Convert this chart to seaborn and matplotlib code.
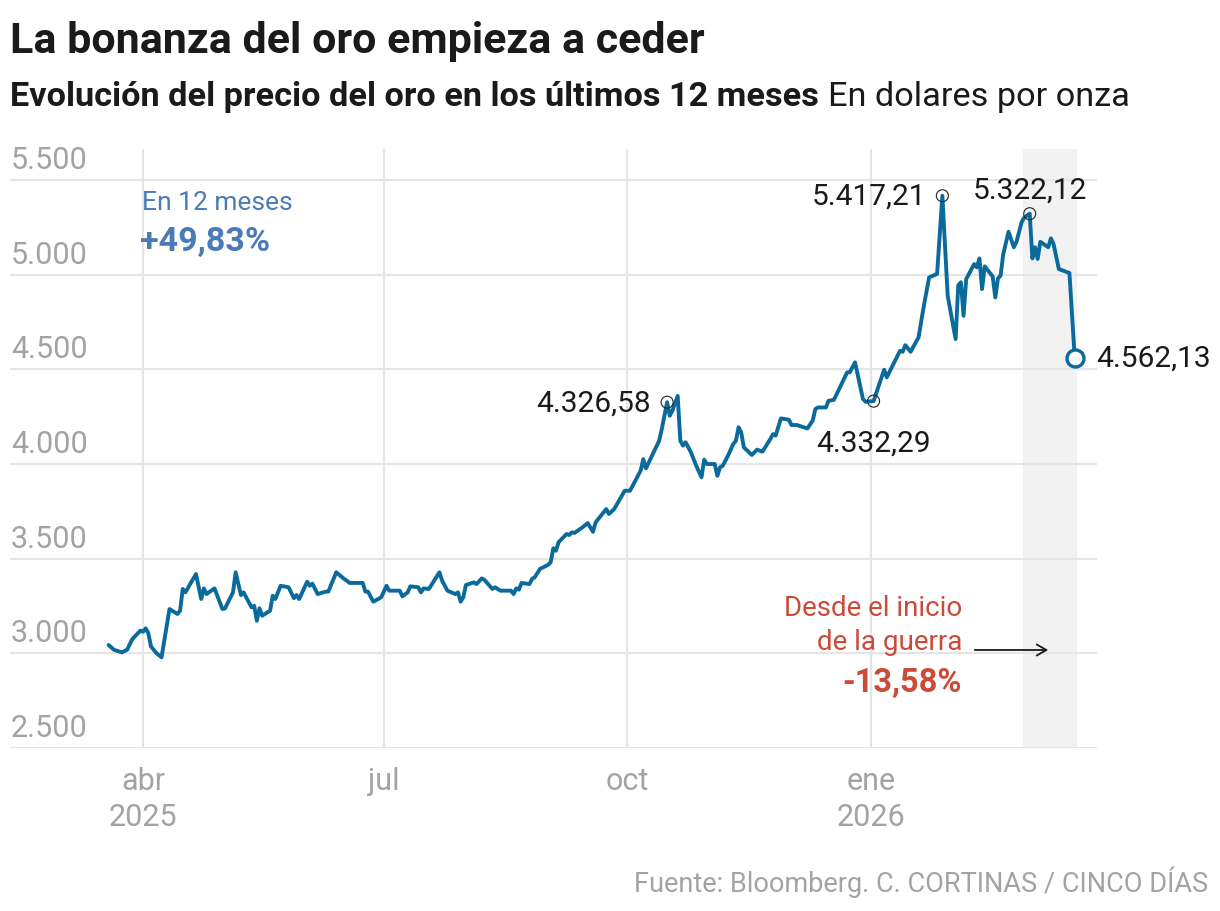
import pandas as pd
import numpy as np
import matplotlib
matplotlib.use("Agg")
import matplotlib.pyplot as plt
import matplotlib.transforms as mtransforms
import seaborn as sns

# precio del oro (dolares por onza)
fechas = [
    '2025-03-19', '2025-03-21', '2025-03-24', '2025-03-26', '2025-03-28', '2025-03-31',
    '2025-04-01', '2025-04-02', '2025-04-03', '2025-04-04', '2025-04-06', '2025-04-08',
    '2025-04-11', '2025-04-14', '2025-04-15', '2025-04-16', '2025-04-17', '2025-04-21',
    '2025-04-23', '2025-04-24', '2025-04-25', '2025-04-28', '2025-05-01', '2025-05-02',
    '2025-05-05', '2025-05-06', '2025-05-08', '2025-05-09', '2025-05-12', '2025-05-13',
    '2025-05-14', '2025-05-15', '2025-05-16', '2025-05-19', '2025-05-20', '2025-05-21',
    '2025-05-23', '2025-05-26', '2025-05-28', '2025-05-29', '2025-05-30', '2025-06-02',
    '2025-06-03', '2025-06-04', '2025-06-06', '2025-06-09', '2025-06-10', '2025-06-13',
    '2025-06-16', '2025-06-17', '2025-06-18', '2025-06-23', '2025-06-24', '2025-06-25',
    '2025-06-27', '2025-06-30', '2025-07-02', '2025-07-03', '2025-07-07', '2025-07-08',
    '2025-07-10', '2025-07-11', '2025-07-14', '2025-07-15', '2025-07-16', '2025-07-18',
    '2025-07-22', '2025-07-23', '2025-07-25', '2025-07-28', '2025-07-29', '2025-07-30',
    '2025-07-31', '2025-08-01', '2025-08-04', '2025-08-05', '2025-08-07', '2025-08-08',
    '2025-08-11', '2025-08-12', '2025-08-14', '2025-08-18', '2025-08-19', '2025-08-20',
    '2025-08-21', '2025-08-22', '2025-08-25', '2025-08-26', '2025-08-27', '2025-08-29',
    '2025-09-01', '2025-09-02', '2025-09-03', '2025-09-04', '2025-09-05', '2025-09-08',
    '2025-09-09', '2025-09-10', '2025-09-11', '2025-09-14', '2025-09-16', '2025-09-18',
    '2025-09-19', '2025-09-23', '2025-09-24', '2025-09-26', '2025-09-30', '2025-10-02',
    '2025-10-06', '2025-10-07', '2025-10-08', '2025-10-13', '2025-10-14', '2025-10-16',
    '2025-10-17', '2025-10-18', '2025-10-20', '2025-10-21', '2025-10-22', '2025-10-23',
    '2025-10-25', '2025-10-27', '2025-10-29', '2025-10-30', '2025-10-31', '2025-11-03',
    '2025-11-04', '2025-11-05', '2025-11-06', '2025-11-08', '2025-11-10', '2025-11-11',
    '2025-11-12', '2025-11-13', '2025-11-14', '2025-11-17', '2025-11-19', '2025-11-21',
    '2025-11-24', '2025-11-25', '2025-11-26', '2025-11-28', '2025-12-01', '2025-12-02',
    '2025-12-04', '2025-12-08', '2025-12-10', '2025-12-11', '2025-12-12', '2025-12-15',
    '2025-12-16', '2025-12-18', '2025-12-20', '2025-12-23', '2025-12-24', '2025-12-26',
    '2025-12-29', '2025-12-30', '2026-01-02', '2026-01-06', '2026-01-07', '2026-01-12',
    '2026-01-13', '2026-01-14', '2026-01-16', '2026-01-19', '2026-01-21', '2026-01-23',
    '2026-01-26', '2026-01-28', '2026-01-30', '2026-02-02', '2026-02-03', '2026-02-04',
    '2026-02-05', '2026-02-06', '2026-02-09', '2026-02-10', '2026-02-11', '2026-02-12',
    '2026-02-13', '2026-02-16', '2026-02-17', '2026-02-18', '2026-02-19', '2026-02-20',
    '2026-02-22', '2026-02-24', '2026-02-25', '2026-02-27', '2026-02-28', '2026-03-02',
    '2026-03-03', '2026-03-04', '2026-03-05', '2026-03-06', '2026-03-09', '2026-03-10',
    '2026-03-11', '2026-03-13', '2026-03-17', '2026-03-19',
]
precio = [
    3044, 3019, 3005, 3019, 3076, 3120,
    3114, 3132, 3107, 3037, 3002, 2979,
    3234, 3208, 3225, 3340, 3322, 3419,
    3287, 3343, 3313, 3343, 3234, 3238,
    3322, 3428, 3308, 3322, 3243, 3251,
    3172, 3238, 3199, 3225, 3304, 3287,
    3357, 3349, 3291, 3308, 3287, 3378,
    3357, 3368, 3313, 3326, 3326, 3428,
    3393, 3384, 3372, 3372, 3326, 3326,
    3273, 3296, 3357, 3331, 3331, 3301,
    3322, 3354, 3349, 3322, 3343, 3340,
    3428, 3384, 3331, 3313, 3322, 3273,
    3296, 3361, 3375, 3366, 3396, 3388,
    3340, 3349, 3331, 3331, 3313, 3343,
    3336, 3372, 3366, 3393, 3402, 3446,
    3467, 3481, 3555, 3542, 3587, 3630,
    3625, 3639, 3636, 3665, 3688, 3642,
    3692, 3762, 3736, 3762, 3859, 3859,
    3965, 4026, 3977, 4123, 4185, 4326.58,
    4255, 4282, 4360, 4123, 4097, 4115,
    4062, 3991, 3930, 4023, 4000, 4000,
    3938, 3983, 3990, 4044, 4106, 4123,
    4194, 4167, 4088, 4048, 4076, 4065,
    4132, 4158, 4150, 4241, 4234, 4206,
    4206, 4188, 4229, 4290, 4299, 4299,
    4334, 4339, 4396, 4484, 4484, 4537,
    4343, 4329, 4332.29, 4498, 4458, 4598,
    4593, 4628, 4593, 4669, 4836, 4986,
    5004, 5417.21, 4889, 4660, 4945, 4960,
    4783, 4977, 5056, 5039, 5086, 4924,
    5044, 4991, 4880, 4981, 4995, 5109,
    5227, 5145, 5174, 5280, 5303, 5322.12,
    5086, 5145, 5083, 5174, 5145, 5192,
    5162, 5030, 5009, 4562.13,
]

yticks = [2500, 3000, 3500, 4000, 4500, 5000, 5500]
ytick_labels = ['2.500', '3.000', '3.500', '4.000', '4.500', '5.000', '5.500']
xticks = ['2025-04-01', '2025-07-01', '2025-10-01', '2026-01-01']
xtick_labels = ['abr\n2025', 'jul', 'oct', 'ene\n2026']

# puntos destacados: fecha, texto, desplazamiento (px), alineacion
anot_fechas = ['2025-10-16', '2026-01-28', '2026-03-02', '2026-01-02']
anot_textos = ['4.326,58', '5.417,21', '5.322,12', '4.332,29']
anot_offsets = [(-16, 0), (-16, 0), (0, 24), (0, -41)]
anot_ha = ['right', 'right', 'center', 'center']

inicio_guerra = '2026-02-27 12:00'
fin_guerra = '2026-03-20'

df = pd.DataFrame({'fecha': pd.to_datetime(fechas), 'precio': precio})

sns.set_theme(style="white")
plt.rcParams['font.family'] = ['Roboto', 'DejaVu Sans']

azul = '#0b6a9c'
gris = '#a3a3a3'

fig = plt.figure(figsize=(12.2, 9.12), dpi=100)
ax = fig.add_axes([10/1220, 1-749/912, (1097-10)/1220, (749-150)/912])

ax.axvspan(pd.Timestamp(inicio_guerra), pd.Timestamp(fin_guerra), color='#f2f2f2', zorder=0.2, lw=0)
sns.lineplot(data=df, x='fecha', y='precio', color=azul, linewidth=2.8, ax=ax, zorder=3)
for l in ax.lines:
    l.set_solid_joinstyle('round')

ax.set_xlim(pd.Timestamp('2025-02-09 18:00'), pd.Timestamp('2026-03-27 10:00'))
ax.set_ylim(2500, 5664)
ax.set_axisbelow(True)
ax.grid(True, color='#e5e5e5', lw=1.5)
for s in ax.spines.values():
    s.set_visible(False)

ax.set_yticks(yticks)
ax.set_yticklabels([])
ax.set_xticks(pd.to_datetime(xticks))
ax.set_xticklabels(xtick_labels, color=gris, fontsize=22, linespacing=1.3)
ax.tick_params(axis='both', length=0)
ax.tick_params(axis='x', pad=13)
ax.set_xlabel('')
ax.set_ylabel('')

trans = mtransforms.blended_transform_factory(ax.transAxes, ax.transData)
for v, t in zip(yticks, ytick_labels):
    ax.annotate(t, xy=(0, v), xycoords=trans, xytext=(1, 6), textcoords='offset pixels',
                ha='left', va='bottom', fontsize=22, color=gris)

# puntos destacados
for f, t, off, ha in zip(anot_fechas, anot_textos, anot_offsets, anot_ha):
    v = df.loc[df['fecha'] == pd.Timestamp(f), 'precio'].iloc[0]
    ax.scatter([pd.Timestamp(f)], [v], s=75, facecolor='none', edgecolor='#222222', lw=0.8, zorder=4)
    ax.annotate(t, xy=(pd.Timestamp(f), v), xytext=off, textcoords='offset pixels',
                ha=ha, va='center', fontsize=21.5, color='#1a1a1a')

ultimo = df.iloc[-1]
ax.scatter([ultimo['fecha']], [ultimo['precio']], s=150, facecolor='white', edgecolor=azul, lw=2.4, zorder=5)
ax.annotate('4.562,13', xy=(ultimo['fecha'], ultimo['precio']), xytext=(21, 0), textcoords='offset pixels',
            ha='left', va='center', fontsize=21.5, color='#1a1a1a')

# textos
fig.text(10/1220, 1-41/912, 'La bonanza del oro empieza a ceder', fontsize=31, fontweight='bold',
         color='#1a1a1a', ha='left', va='center')
t1 = fig.text(10/1220, 1-97/912, 'Evolución del precio del oro en los últimos 12 meses', fontsize=24.7,
              fontweight='bold', color='#1a1a1a', ha='left', va='center')
fig.canvas.draw()
bb = t1.get_window_extent()
fig.text((bb.x1 + 9)/1220, 1-97/912, 'En dolares por onza', fontsize=24.7, color='#1a1a1a', ha='left', va='center')

fig.text(142/1220, 1-203/912, 'En 12 meses', fontsize=19, color='#4a7bb7', ha='left', va='center')
fig.text(140/1220, 1-242/912, '+49,83%', fontsize=24.5, fontweight='bold', color='#4a7bb7', ha='left', va='center')

fig.text(962/1220, 1-609/912, 'Desde el inicio', fontsize=20, color='#cc4a38', ha='right', va='center')
fig.text(962/1220, 1-643/912, 'de la guerra', fontsize=20, color='#cc4a38', ha='right', va='center')
fig.text(962/1220, 1-683/912, '-13,58%', fontsize=23.5, fontweight='bold', color='#cc4a38', ha='right', va='center')
fig.add_artist(matplotlib.patches.FancyArrowPatch((972/1220, 1-651/912), (1051/1220, 1-651/912),
               transform=fig.transFigure, arrowstyle='->,head_length=7,head_width=4', color='#1a1a1a', lw=1.3))

fig.text(1208/1220, 1-882/912, 'Fuente: Bloomberg. C. CORTINAS / CINCO DÍAS', fontsize=19.5, color=gris,
         ha='right', va='center')

fig.savefig('out.png', dpi=100)
